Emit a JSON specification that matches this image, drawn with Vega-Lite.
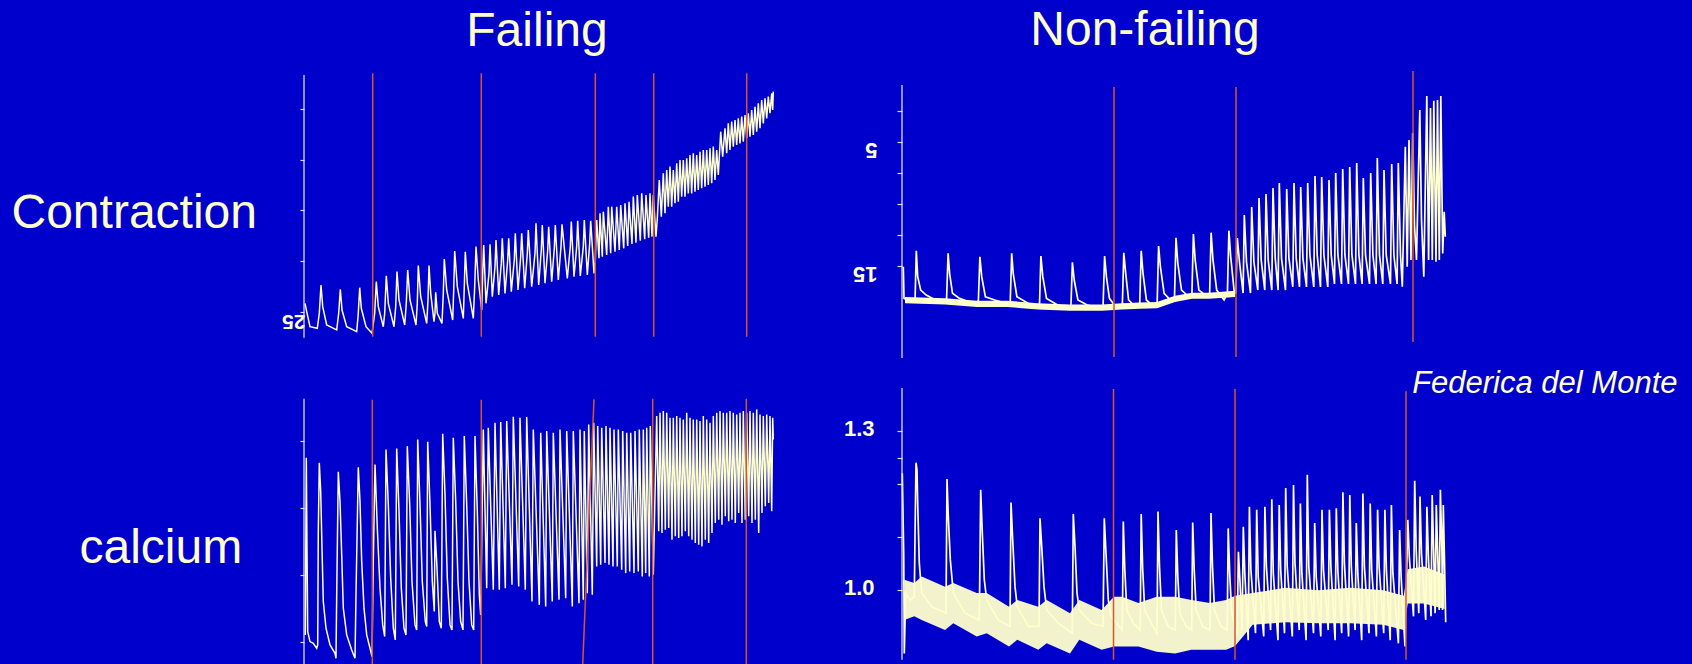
{
  "$schema": "https://vega.github.io/schema/vega-lite/v6.json",
  "background": "#0000CC",
  "padding": {"left": 11, "top": 7, "right": 15, "bottom": 0},
  "bounds": "flush",
  "columns": 2,
  "spacing": {"row": 30, "column": 126},
  "config": {
    "view": {"stroke": null},
    "font": "Liberation Sans",
    "title": {"fontSize": 48, "color": "#FFFFCC", "fontWeight": "normal", "font": "Liberation Sans", "anchor": "middle", "baseline": "alphabetic", "offset": 15, "frame": "group"},
    "axis": {"grid": false, "domain": false, "tickColor": "#DCDCF5", "tickWidth": 1.2, "labelColor": "#FFFFCC", "labelFont": "Liberation Sans", "labelFontWeight": "bold", "titleColor": "#FFFFCC", "titleFont": "Liberation Sans", "titleFontWeight": "normal", "labelOverlap": false, "labelFlush": false}
  },
  "datasets": {
    "fcMarks": [
      {"t": 6.87, "t2": 6.87, "top": 1.51, "bottom": 27.42},
      {"t": 17.73, "t2": 17.73, "top": 1.51, "bottom": 27.42},
      {"t": 29.13, "t2": 29.13, "top": 1.51, "bottom": 27.42},
      {"t": 34.97, "t2": 34.97, "top": 1.51, "bottom": 27.42},
      {"t": 44.27, "t2": 44.27, "top": 1.51, "bottom": 27.42}
    ],
    "ncMarks": [
      {"t": 21.2, "t2": 21.2, "top": 0.56, "bottom": 22.34},
      {"t": 33.4, "t2": 33.4, "top": 0.56, "bottom": 22.34},
      {"t": 51.1, "t2": 51.1, "top": -0.73, "bottom": 21.13}
    ],
    "fcaMarks": [
      {"t": 6.83, "t2": 6.83, "top": 7.25, "bottom": -0.66},
      {"t": 17.73, "t2": 17.73, "top": 7.25, "bottom": -0.66},
      {"t": 29.0, "t2": 27.87, "top": 7.26, "bottom": -0.66},
      {"t": 34.87, "t2": 34.87, "top": 7.28, "bottom": -0.66},
      {"t": 44.23, "t2": 44.23, "top": 7.28, "bottom": -0.66}
    ],
    "ncaMarks": [
      {"t": 21.15, "t2": 21.15, "top": 1.380, "bottom": 0.869},
      {"t": 33.3, "t2": 33.3, "top": 1.380, "bottom": 0.869},
      {"t": 50.4, "t2": 50.4, "top": 1.376, "bottom": 0.869}
    ],
    "fc": [
      {"t":0.10,"v":24.14},{"t":0.20,"v":24.63},{"t":0.60,"v":26.44},{"t":1.33,"v":26.60},{"t":1.53,"v":25.12},{"t":1.70,"v":22.34},{"t":1.87,"v":24.47},{"t":2.27,"v":26.27},{"t":3.27,"v":26.76},{"t":3.47,"v":25.12},{"t":3.63,"v":22.76},{"t":3.80,"v":24.80},{"t":4.27,"v":26.44},{"t":5.27,"v":26.93},{"t":5.43,"v":25.12},{"t":5.57,"v":22.60},{"t":5.73,"v":24.63},{"t":6.20,"v":26.44},{"t":6.80,"v":27.09},{"t":7.07,"v":25.12},{"t":7.23,"v":22.01},{"t":7.43,"v":24.47},{"t":7.93,"v":26.44},{"t":8.07,"v":25.12},{"t":8.23,"v":21.42},{"t":8.43,"v":24.14},{"t":9.00,"v":26.44},{"t":9.17,"v":24.47},{"t":9.30,"v":21.02},{"t":9.50,"v":23.81},{"t":10.07,"v":26.27},{"t":10.23,"v":24.14},{"t":10.37,"v":20.86},{"t":10.60,"v":23.81},{"t":11.20,"v":26.27},{"t":11.33,"v":24.14},{"t":11.43,"v":20.43},{"t":11.67,"v":23.49},{"t":12.27,"v":26.11},{"t":12.40,"v":23.81},{"t":12.50,"v":20.43},{"t":12.67,"v":23.16},{"t":13.00,"v":25.94},{"t":13.10,"v":25.12},{"t":13.17,"v":23.06},{"t":13.33,"v":25.12},{"t":13.80,"v":26.11},{"t":13.93,"v":23.16},{"t":14.03,"v":19.78},{"t":14.27,"v":22.83},{"t":14.87,"v":25.78},{"t":14.97,"v":22.83},{"t":15.07,"v":18.99},{"t":15.33,"v":22.50},{"t":15.93,"v":25.62},{"t":16.03,"v":22.50},{"t":16.13,"v":19.06},{"t":16.33,"v":22.17},{"t":16.93,"v":25.62},{"t":17.07,"v":22.50},{"t":17.20,"v":18.56},{"t":17.43,"v":21.85},{"t":17.77,"v":24.80},{"t":17.87,"v":21.19},{"t":17.97,"v":18.40},{"t":18.20,"v":24.14},{"t":18.50,"v":21.19},{"t":18.60,"v":18.33},{"t":18.83,"v":23.49},{"t":19.10,"v":20.54},{"t":19.20,"v":17.91},{"t":19.47,"v":23.32},{"t":19.73,"v":20.21},{"t":19.83,"v":17.74},{"t":20.10,"v":23.16},{"t":20.37,"v":19.88},{"t":20.47,"v":17.74},{"t":20.73,"v":22.99},{"t":21.03,"v":19.88},{"t":21.13,"v":17.25},{"t":21.40,"v":22.83},{"t":21.67,"v":19.55},{"t":21.77,"v":17.25},{"t":22.07,"v":22.66},{"t":22.33,"v":19.22},{"t":22.43,"v":16.92},{"t":22.77,"v":22.50},{"t":23.10,"v":19.22},{"t":23.20,"v":16.27},{"t":23.47,"v":22.34},{"t":23.73,"v":18.89},{"t":23.83,"v":16.43},{"t":24.10,"v":22.17},{"t":24.37,"v":18.89},{"t":24.47,"v":16.60},{"t":24.77,"v":22.01},{"t":25.03,"v":18.73},{"t":25.13,"v":16.43},{"t":25.43,"v":21.85},{"t":25.70,"v":18.56},{"t":25.80,"v":16.37},{"t":26.33,"v":21.68},{"t":26.63,"v":18.56},{"t":26.73,"v":16.10},{"t":27.00,"v":21.52},{"t":27.27,"v":18.56},{"t":27.37,"v":16.01},{"t":27.63,"v":21.45},{"t":27.93,"v":18.56},{"t":28.03,"v":15.94},{"t":28.33,"v":21.35},{"t":28.57,"v":18.24},{"t":28.67,"v":16.01},{"t":29.00,"v":21.19},
      {"t":29.13,"v":19.88},{"t":29.27,"v":15.94},{"t":29.50,"v":19.71},{"t":29.60,"v":15.28},{"t":29.83,"v":19.55},{"t":29.93,"v":15.12},{"t":30.27,"v":19.38},{"t":30.43,"v":14.63},{"t":30.67,"v":19.22},{"t":30.77,"v":14.63},{"t":31.10,"v":19.06},{"t":31.27,"v":14.63},{"t":31.53,"v":18.89},{"t":31.67,"v":14.46},{"t":31.97,"v":18.73},{"t":32.10,"v":14.30},{"t":32.37,"v":18.50},{"t":32.50,"v":14.14},{"t":32.80,"v":18.30},{"t":32.93,"v":13.64},{"t":33.20,"v":18.17},{"t":33.33,"v":13.48},{"t":33.63,"v":17.97},{"t":33.77,"v":13.32},{"t":34.07,"v":17.84},{"t":34.20,"v":13.48},{"t":34.47,"v":17.68},{"t":34.60,"v":13.32},{"t":34.80,"v":17.58},{"t":34.93,"v":13.48},{"t":35.20,"v":17.58},
      {"t":35.33,"v":15.78},{"t":35.53,"v":12.00},{"t":35.73,"v":15.61},{"t":35.93,"v":11.35},{"t":36.10,"v":15.28},{"t":36.27,"v":11.02},{"t":36.43,"v":14.63},{"t":36.60,"v":10.69},{"t":36.77,"v":14.63},{"t":36.93,"v":11.02},{"t":37.10,"v":14.30},{"t":37.27,"v":10.36},{"t":37.43,"v":14.14},{"t":37.60,"v":10.04},{"t":37.77,"v":13.64},{"t":37.93,"v":10.04},{"t":38.10,"v":13.64},{"t":38.27,"v":9.87},{"t":38.43,"v":13.32},{"t":38.60,"v":9.54},{"t":38.77,"v":13.32},{"t":38.93,"v":9.38},{"t":39.10,"v":13.15},{"t":39.27,"v":9.54},{"t":39.43,"v":12.99},{"t":39.60,"v":9.22},{"t":39.77,"v":12.82},{"t":39.93,"v":9.05},{"t":40.10,"v":12.66},{"t":40.27,"v":9.05},{"t":40.43,"v":12.50},{"t":40.60,"v":8.89},{"t":40.77,"v":12.33},{"t":40.93,"v":8.72},{"t":41.10,"v":12.00},{"t":41.27,"v":9.05},{"t":41.43,"v":11.51},{"t":41.67,"v":7.25},{"t":41.87,"v":9.71},{"t":42.10,"v":6.92},{"t":42.27,"v":9.38},{"t":42.43,"v":6.43},{"t":42.60,"v":9.05},{"t":42.77,"v":6.26},{"t":42.93,"v":8.72},{"t":43.10,"v":6.10},{"t":43.27,"v":8.56},{"t":43.43,"v":5.94},{"t":43.60,"v":8.40},{"t":43.77,"v":5.77},{"t":43.93,"v":8.23},{"t":44.10,"v":5.61},{"t":44.27,"v":7.90},{"t":44.43,"v":5.44},{"t":44.60,"v":7.74},{"t":44.77,"v":5.12},{"t":44.93,"v":7.58},{"t":45.10,"v":4.79},{"t":45.27,"v":7.25},{"t":45.43,"v":4.46},{"t":45.60,"v":6.92},{"t":45.77,"v":4.13},{"t":45.93,"v":6.43},{"t":46.10,"v":3.97},{"t":46.27,"v":5.94},{"t":46.43,"v":3.80},{"t":46.60,"v":5.44},{"t":46.77,"v":3.48},{"t":46.87,"v":5.12},{"t":46.93,"v":3.31}
    ],
    "nc": [
      {"t":0.13,"v":15.06},{"t":0.20,"v":17.61},{"t":0.76,"v":17.88},{"t":1.31,"v":17.61},{"t":1.43,"v":13.77},{"t":1.57,"v":15.86},{"t":1.87,"v":16.94},{"t":2.42,"v":17.34},{"t":3.35,"v":17.74},{"t":4.27,"v":17.88},{"t":4.46,"v":17.61},{"t":4.61,"v":13.98},{"t":4.76,"v":15.59},{"t":5.05,"v":17.20},{"t":5.75,"v":17.61},{"t":6.68,"v":17.88},{"t":7.49,"v":18.15},{"t":7.64,"v":17.74},{"t":7.79,"v":14.25},{"t":7.97,"v":15.86},{"t":8.34,"v":17.48},{"t":9.27,"v":17.74},{"t":10.38,"v":18.01},{"t":10.82,"v":18.01},{"t":10.97,"v":13.98},{"t":11.12,"v":15.59},{"t":11.49,"v":17.48},{"t":12.60,"v":18.01},{"t":13.52,"v":18.28},{"t":13.75,"v":18.15},{"t":13.89,"v":14.19},{"t":14.08,"v":15.86},{"t":14.45,"v":17.61},{"t":15.56,"v":18.15},{"t":16.67,"v":18.41},{"t":16.89,"v":18.28},{"t":17.04,"v":14.70},{"t":17.22,"v":16.13},{"t":17.59,"v":17.74},{"t":18.52,"v":18.15},{"t":20.00,"v":18.41},{"t":20.11,"v":18.15},{"t":20.26,"v":14.19},{"t":20.44,"v":15.86},{"t":20.74,"v":17.61},{"t":21.48,"v":18.41},{"t":22.03,"v":18.28},{"t":22.18,"v":13.93},{"t":22.37,"v":15.59},{"t":22.66,"v":17.74},{"t":23.33,"v":18.28},{"t":23.77,"v":18.15},{"t":23.92,"v":13.77},{"t":24.10,"v":15.59},{"t":24.44,"v":17.74},{"t":25.18,"v":18.28},{"t":25.51,"v":18.15},{"t":25.66,"v":13.39},{"t":25.84,"v":15.06},{"t":26.21,"v":17.20},{"t":26.84,"v":17.74},{"t":27.25,"v":17.61},{"t":27.40,"v":12.72},{"t":27.58,"v":14.78},{"t":27.95,"v":16.94},{"t":28.69,"v":17.48},{"t":28.99,"v":17.34},{"t":29.14,"v":12.42},{"t":29.32,"v":14.52},{"t":29.69,"v":16.94},{"t":30.54,"v":17.48},{"t":30.76,"v":17.34},{"t":30.91,"v":12.31},{"t":31.10,"v":14.52},{"t":31.47,"v":16.94},{"t":32.21,"v":17.74},{"t":32.54,"v":17.20},{"t":32.69,"v":12.15},{"t":32.87,"v":14.25},{"t":33.24,"v":17.20},
      {"t":33.38,"v":17.18},{"t":33.53,"v":12.74},{"t":33.75,"v":14.68},{"t":34.11,"v":17.18},{"t":34.23,"v":10.89},{"t":34.45,"v":14.68},{"t":34.85,"v":17.18},{"t":34.97,"v":10.24},{"t":35.19,"v":14.68},{"t":35.58,"v":16.94},{"t":35.70,"v":9.52},{"t":35.92,"v":14.52},{"t":36.28,"v":16.94},{"t":36.40,"v":9.19},{"t":36.62,"v":14.52},{"t":36.98,"v":16.94},{"t":37.10,"v":8.71},{"t":37.32,"v":14.36},{"t":37.61,"v":16.94},{"t":37.73,"v":8.31},{"t":37.95,"v":14.36},{"t":38.35,"v":16.94},{"t":38.47,"v":8.79},{"t":38.69,"v":14.36},{"t":39.08,"v":16.69},{"t":39.20,"v":8.31},{"t":39.42,"v":14.36},{"t":39.75,"v":16.69},{"t":39.87,"v":8.63},{"t":40.09,"v":14.36},{"t":40.45,"v":16.69},{"t":40.57,"v":8.31},{"t":40.79,"v":14.11},{"t":41.18,"v":16.69},{"t":41.30,"v":7.74},{"t":41.52,"v":14.11},{"t":41.85,"v":16.69},{"t":41.97,"v":7.82},{"t":42.19,"v":14.11},{"t":42.58,"v":16.69},{"t":42.70,"v":8.06},{"t":42.92,"v":14.11},{"t":43.25,"v":16.45},{"t":43.37,"v":7.50},{"t":43.59,"v":14.11},{"t":43.95,"v":16.45},{"t":44.07,"v":7.18},{"t":44.29,"v":14.11},{"t":44.65,"v":16.45},{"t":44.77,"v":7.02},{"t":44.99,"v":14.11},{"t":45.35,"v":16.45},{"t":45.47,"v":6.69},{"t":45.69,"v":14.11},{"t":46.01,"v":16.45},{"t":46.13,"v":7.90},{"t":46.35,"v":14.11},{"t":46.75,"v":16.45},{"t":46.87,"v":7.50},{"t":47.09,"v":14.11},{"t":47.41,"v":16.45},{"t":47.53,"v":6.29},{"t":47.75,"v":14.11},{"t":48.08,"v":16.45},{"t":48.20,"v":7.26},{"t":48.42,"v":14.11},{"t":48.85,"v":16.45},{"t":48.97,"v":6.77},{"t":49.19,"v":14.11},{"t":49.51,"v":16.45},{"t":49.63,"v":6.69},{"t":49.85,"v":14.11},
      {"t":50.03,"v":16.67},{"t":50.33,"v":5.38},{"t":50.52,"v":15.06},{"t":50.70,"v":4.84},{"t":50.90,"v":14.52},{"t":51.07,"v":4.27},{"t":51.25,"v":11.69},{"t":51.45,"v":14.52},{"t":51.78,"v":2.42},{"t":51.95,"v":11.29},{"t":52.18,"v":15.86},{"t":52.48,"v":1.29},{"t":52.66,"v":14.52},{"t":52.85,"v":2.26},{"t":53.03,"v":14.52},{"t":53.18,"v":1.67},{"t":53.40,"v":14.65},{"t":53.55,"v":1.61},{"t":53.73,"v":14.52},{"t":53.88,"v":1.29},{"t":54.07,"v":13.98},{"t":54.22,"v":10.62},{"t":54.33,"v":12.64}
    ],
    "ncBand": [
      {"t":0.3,"lo":17.5,"hi":18.0},{"t":4.3,"lo":17.6,"hi":18.1},{"t":7.5,"lo":17.8,"hi":18.3},{"t":10.5,"lo":17.8,"hi":18.3},{"t":13.6,"lo":18.0,"hi":18.5},{"t":16.8,"lo":18.1,"hi":18.6},{"t":20.0,"lo":18.1,"hi":18.6},{"t":22.0,"lo":18.0,"hi":18.5},{"t":23.8,"lo":17.95,"hi":18.45},{"t":25.5,"lo":17.9,"hi":18.4},{"t":27.3,"lo":17.4,"hi":17.9},{"t":29.0,"lo":17.15,"hi":17.65},{"t":30.7,"lo":17.15,"hi":17.65},{"t":33.3,"lo":17.0,"hi":17.5}
    ],
    "fca": [
      {"t":0.13,"v":0.21},{"t":0.23,"v":5.51},{"t":0.30,"v":2.81},{"t":0.37,"v":0.31},{"t":0.60,"v":0.01},{"t":0.93,"v":-0.04},{"t":1.27,"v":-0.19},{"t":1.37,"v":-0.09},{"t":1.43,"v":3.31},{"t":1.53,"v":5.36},{"t":1.67,"v":4.51},{"t":1.80,"v":2.81},{"t":1.93,"v":1.21},{"t":2.20,"v":0.41},{"t":2.60,"v":-0.09},{"t":3.10,"v":-0.34},{"t":3.20,"v":-0.49},{"t":3.27,"v":1.41},{"t":3.43,"v":5.09},{"t":3.60,"v":4.21},{"t":3.77,"v":2.61},{"t":3.93,"v":1.01},{"t":4.27,"v":0.21},{"t":4.77,"v":-0.24},{"t":5.10,"v":-0.49},{"t":5.20,"v":1.41},{"t":5.43,"v":5.23},{"t":5.60,"v":4.21},{"t":5.77,"v":2.41},{"t":6.00,"v":1.01},{"t":6.27,"v":0.21},{"t":6.60,"v":-0.19},{"t":6.80,"v":-0.44},{"t":6.93,"v":2.41},{"t":7.10,"v":5.31},{"t":7.33,"v":3.41},{"t":7.60,"v":1.61},{"t":7.87,"v":0.51},{"t":8.07,"v":0.16},{"t":8.20,"v":5.76},{"t":8.43,"v":4.11},{"t":8.67,"v":1.91},{"t":8.93,"v":0.41},{"t":9.13,"v":0.06},{"t":9.27,"v":5.79},{"t":9.50,"v":3.91},{"t":9.73,"v":1.61},{"t":10.00,"v":0.41},{"t":10.20,"v":0.21},{"t":10.33,"v":5.86},{"t":10.57,"v":4.11},{"t":10.80,"v":1.81},{"t":11.10,"v":0.51},{"t":11.27,"v":0.36},{"t":11.37,"v":6.06},{"t":11.60,"v":4.11},{"t":11.83,"v":1.81},{"t":12.13,"v":0.61},{"t":12.27,"v":0.46},{"t":12.37,"v":5.99},{"t":12.60,"v":4.11},{"t":12.83,"v":1.81},{"t":13.03,"v":0.91},{"t":13.10,"v":3.33},{"t":13.27,"v":2.41},{"t":13.53,"v":0.61},{"t":13.73,"v":0.41},{"t":13.87,"v":6.23},{"t":14.10,"v":4.41},{"t":14.33,"v":1.91},{"t":14.60,"v":0.51},{"t":14.80,"v":0.36},{"t":14.93,"v":6.11},{"t":15.17,"v":4.21},{"t":15.40,"v":1.81},{"t":15.67,"v":0.61},{"t":15.90,"v":0.36},{"t":16.03,"v":6.16},{"t":16.27,"v":4.11},{"t":16.50,"v":1.81},{"t":16.77,"v":0.51},{"t":16.97,"v":0.36},{"t":17.10,"v":6.16},{"t":17.33,"v":3.91},{"t":17.53,"v":1.41},{"t":17.67,"v":0.81},
      {"t":17.93,"v":6.36},{"t":18.27,"v":1.61},{"t":18.43,"v":6.41},{"t":18.93,"v":1.56},{"t":19.10,"v":6.56},{"t":19.53,"v":1.56},{"t":19.67,"v":6.58},{"t":20.13,"v":1.61},{"t":20.27,"v":6.61},{"t":20.80,"v":1.71},{"t":20.93,"v":6.74},{"t":21.47,"v":1.66},{"t":21.60,"v":6.71},{"t":22.13,"v":1.56},{"t":22.27,"v":6.73},{"t":22.80,"v":1.21},{"t":22.93,"v":6.36},{"t":23.53,"v":1.11},{"t":23.67,"v":6.26},{"t":24.17,"v":1.06},{"t":24.27,"v":6.31},{"t":24.83,"v":1.21},{"t":24.93,"v":6.26},{"t":25.50,"v":1.26},{"t":25.60,"v":6.36},{"t":26.17,"v":1.31},{"t":26.27,"v":6.31},{"t":26.83,"v":1.06},{"t":26.93,"v":6.31},{"t":27.50,"v":1.16},{"t":27.60,"v":6.36},{"t":27.93,"v":1.26},{"t":28.03,"v":6.31},{"t":28.33,"v":1.46},{"t":28.47,"v":6.51},{"t":28.83,"v":1.41},{"t":28.97,"v":6.56},
      {"t":29.27,"v":2.26},{"t":29.37,"v":6.46},{"t":29.67,"v":2.31},{"t":29.77,"v":6.41},{"t":30.10,"v":2.36},{"t":30.20,"v":6.46},{"t":30.50,"v":2.31},{"t":30.60,"v":6.41},{"t":30.90,"v":2.26},{"t":31.00,"v":6.36},{"t":31.33,"v":2.26},{"t":31.43,"v":6.36},{"t":31.77,"v":2.16},{"t":31.87,"v":6.31},{"t":32.17,"v":2.06},{"t":32.27,"v":6.26},{"t":32.57,"v":2.11},{"t":32.67,"v":6.26},{"t":33.00,"v":2.06},{"t":33.10,"v":6.31},{"t":33.43,"v":2.11},{"t":33.53,"v":6.36},{"t":33.83,"v":1.96},{"t":33.93,"v":6.36},{"t":34.17,"v":2.06},{"t":34.27,"v":6.41},{"t":34.53,"v":1.96},{"t":34.63,"v":6.46},{"t":34.93,"v":2.01},
      {"t":35.27,"v":6.76},{"t":35.47,"v":3.31},{"t":35.60,"v":6.86},{"t":35.80,"v":3.26},{"t":35.93,"v":6.91},{"t":36.13,"v":3.36},{"t":36.27,"v":6.86},{"t":36.47,"v":3.41},{"t":36.60,"v":6.71},{"t":36.80,"v":3.06},{"t":36.93,"v":6.71},{"t":37.13,"v":3.16},{"t":37.27,"v":6.76},{"t":37.47,"v":3.11},{"t":37.60,"v":6.71},{"t":37.80,"v":3.16},{"t":37.93,"v":6.66},{"t":38.13,"v":3.31},{"t":38.27,"v":6.86},{"t":38.47,"v":3.16},{"t":38.60,"v":6.71},{"t":38.80,"v":3.06},{"t":38.93,"v":6.66},{"t":39.13,"v":2.96},{"t":39.27,"v":6.66},{"t":39.47,"v":2.91},{"t":39.60,"v":6.61},{"t":39.80,"v":2.86},{"t":39.93,"v":6.76},{"t":40.13,"v":3.06},{"t":40.27,"v":6.66},{"t":40.47,"v":2.96},{"t":40.60,"v":6.56},{"t":40.80,"v":3.26},{"t":40.93,"v":6.76},{"t":41.13,"v":3.56},{"t":41.27,"v":6.86},{"t":41.47,"v":3.66},{"t":41.60,"v":6.91},{"t":41.80,"v":3.51},{"t":41.93,"v":6.86},{"t":42.13,"v":3.76},{"t":42.27,"v":6.86},{"t":42.47,"v":3.61},{"t":42.60,"v":6.91},{"t":42.80,"v":3.66},{"t":42.93,"v":6.86},{"t":43.13,"v":3.56},{"t":43.27,"v":6.81},{"t":43.47,"v":3.86},{"t":43.60,"v":6.86},{"t":43.80,"v":3.56},{"t":43.93,"v":6.91},{"t":44.13,"v":3.66},{"t":44.27,"v":6.86},{"t":44.47,"v":3.76},{"t":44.60,"v":6.91},{"t":44.80,"v":3.56},{"t":44.93,"v":6.86},{"t":45.13,"v":3.66},{"t":45.27,"v":6.96},{"t":45.47,"v":3.26},{"t":45.60,"v":6.81},{"t":45.80,"v":3.86},{"t":45.93,"v":6.76},{"t":46.13,"v":4.06},{"t":46.27,"v":6.81},{"t":46.47,"v":4.16},{"t":46.60,"v":6.76},{"t":46.77,"v":3.91},{"t":46.87,"v":6.71},{"t":46.93,"v":6.06}
    ],
    "nca": [
      {"t":0.03,"v":1.221},{"t":0.17,"v":1.070},{"t":0.23,"v":0.881},{"t":0.37,"v":0.995},{"t":0.80,"v":0.982},{"t":1.23,"v":0.988},{"t":1.30,"v":1.102},{"t":1.40,"v":1.241},{"t":1.50,"v":1.227},{"t":1.57,"v":1.164},{"t":1.73,"v":1.051},{"t":1.97,"v":0.995},{"t":2.97,"v":0.969},{"t":4.40,"v":0.957},{"t":4.50,"v":1.210},{"t":4.63,"v":1.139},{"t":4.83,"v":1.058},{"t":5.13,"v":0.995},{"t":6.30,"v":0.957},{"t":7.73,"v":0.944},{"t":7.87,"v":1.190},{"t":8.03,"v":1.108},{"t":8.23,"v":1.020},{"t":8.47,"v":0.982},{"t":9.63,"v":0.944},{"t":10.80,"v":0.932},{"t":10.90,"v":1.166},{"t":11.07,"v":1.095},{"t":11.30,"v":1.007},{"t":11.53,"v":0.969},{"t":12.63,"v":0.932},{"t":13.70,"v":0.932},{"t":13.80,"v":1.136},{"t":13.97,"v":1.083},{"t":14.20,"v":1.007},{"t":14.47,"v":0.963},{"t":15.63,"v":0.938},{"t":17.03,"v":0.919},{"t":17.13,"v":1.144},{"t":17.30,"v":1.083},{"t":17.50,"v":0.995},{"t":17.73,"v":0.963},{"t":18.97,"v":0.938},{"t":20.10,"v":0.932},{"t":20.23,"v":1.136},{"t":20.40,"v":1.070},{"t":20.63,"v":0.982},{"t":20.90,"v":0.951},{"t":22.03,"v":0.925},{"t":22.13,"v":1.130},{"t":22.28,"v":1.039},{"t":22.48,"v":0.963},{"t":23.13,"v":0.938},{"t":23.82,"v":0.925},{"t":23.92,"v":1.144},{"t":24.07,"v":1.039},{"t":24.27,"v":0.963},{"t":24.92,"v":0.938},{"t":25.50,"v":0.919},{"t":25.60,"v":1.149},{"t":25.75,"v":1.045},{"t":25.95,"v":0.963},{"t":26.60,"v":0.932},{"t":27.33,"v":0.925},{"t":27.43,"v":1.114},{"t":27.58,"v":1.026},{"t":27.78,"v":0.957},{"t":28.43,"v":0.932},{"t":28.97,"v":0.925},{"t":29.07,"v":1.128},{"t":29.22,"v":1.039},{"t":29.42,"v":0.963},{"t":30.07,"v":0.932},{"t":30.80,"v":0.925},{"t":30.90,"v":1.146},{"t":31.05,"v":1.045},{"t":31.25,"v":0.963},{"t":31.90,"v":0.932},{"t":32.52,"v":0.925},{"t":32.62,"v":1.117},{"t":32.77,"v":1.032},{"t":32.97,"v":0.957},{"t":33.20,"v":0.938},
      {"t":33.52,"v":0.913},{"t":33.64,"v":1.073},{"t":33.79,"v":1.020},{"t":34.01,"v":0.925},{"t":34.13,"v":1.120},{"t":34.28,"v":1.032},{"t":34.62,"v":0.906},{"t":34.74,"v":1.158},{"t":34.89,"v":1.039},{"t":35.35,"v":0.919},{"t":35.47,"v":1.152},{"t":35.62,"v":1.026},{"t":36.17,"v":0.913},{"t":36.29,"v":1.158},{"t":36.44,"v":1.045},{"t":36.86,"v":0.925},{"t":36.98,"v":1.172},{"t":37.13,"v":1.032},{"t":37.60,"v":0.906},{"t":37.72,"v":1.161},{"t":37.87,"v":1.039},{"t":38.25,"v":0.919},{"t":38.37,"v":1.193},{"t":38.52,"v":1.045},{"t":39.03,"v":0.913},{"t":39.15,"v":1.199},{"t":39.30,"v":1.051},{"t":39.72,"v":0.925},{"t":39.84,"v":1.164},{"t":39.99,"v":1.032},{"t":40.41,"v":0.906},{"t":40.53,"v":1.218},{"t":40.68,"v":1.045},{"t":41.15,"v":0.919},{"t":41.27,"v":1.127},{"t":41.42,"v":1.026},{"t":41.88,"v":0.913},{"t":42.00,"v":1.152},{"t":42.15,"v":1.039},{"t":42.62,"v":0.925},{"t":42.74,"v":1.152},{"t":42.89,"v":1.045},{"t":43.31,"v":0.906},{"t":43.43,"v":1.155},{"t":43.58,"v":1.039},{"t":43.97,"v":0.919},{"t":44.09,"v":1.185},{"t":44.24,"v":1.051},{"t":44.66,"v":0.913},{"t":44.78,"v":1.180},{"t":44.93,"v":1.045},{"t":45.31,"v":0.925},{"t":45.43,"v":1.127},{"t":45.58,"v":1.032},{"t":45.97,"v":0.906},{"t":46.09,"v":1.183},{"t":46.24,"v":1.045},{"t":46.70,"v":0.919},{"t":46.82,"v":1.164},{"t":46.97,"v":1.039},{"t":47.44,"v":0.913},{"t":47.56,"v":1.152},{"t":47.71,"v":1.045},{"t":48.17,"v":0.919},{"t":48.29,"v":1.152},{"t":48.44,"v":1.039},{"t":48.82,"v":0.906},{"t":48.94,"v":1.161},{"t":49.09,"v":1.032},{"t":49.64,"v":0.900},{"t":49.76,"v":1.114},{"t":49.91,"v":1.026},{"t":50.30,"v":0.894},{"t":50.58,"v":1.133},{"t":50.73,"v":1.064},{"t":51.15,"v":0.951},{"t":51.27,"v":1.207},{"t":51.42,"v":1.076},{"t":51.68,"v":0.957},{"t":51.80,"v":1.177},{"t":51.95,"v":1.070},{"t":52.37,"v":0.944},{"t":52.49,"v":1.158},{"t":52.64,"v":1.064},{"t":52.90,"v":0.951},{"t":53.02,"v":1.180},{"t":53.17,"v":1.070},{"t":53.31,"v":0.957},{"t":53.43,"v":1.161},{"t":53.58,"v":1.064},{"t":53.72,"v":0.963},{"t":53.84,"v":1.190},{"t":53.99,"v":1.076},{"t":54.05,"v":0.963},{"t":54.13,"v":1.161},{"t":54.25,"v":1.057},{"t":54.37,"v":0.940}
    ],
    "ncaBand": [
      {"t":0.23,"lo":0.944,"hi":1.020},{"t":1.23,"lo":0.951,"hi":1.014},{"t":1.97,"lo":0.944,"hi":1.026},{"t":4.30,"lo":0.925,"hi":1.007},{"t":5.13,"lo":0.938,"hi":1.014},{"t":7.47,"lo":0.913,"hi":0.995},{"t":8.47,"lo":0.919,"hi":0.995},{"t":10.70,"lo":0.894,"hi":0.969},{"t":11.53,"lo":0.907,"hi":0.982},{"t":13.63,"lo":0.888,"hi":0.969},{"t":14.47,"lo":0.900,"hi":0.982},{"t":16.80,"lo":0.881,"hi":0.957},{"t":17.73,"lo":0.907,"hi":0.982},{"t":19.97,"lo":0.888,"hi":0.963},{"t":21.19,"lo":0.894,"hi":0.988},{"t":22.00,"lo":0.894,"hi":0.988},{"t":23.64,"lo":0.894,"hi":0.976},{"t":25.47,"lo":0.884,"hi":0.988},{"t":27.31,"lo":0.881,"hi":0.988},{"t":28.94,"lo":0.888,"hi":0.982},{"t":30.78,"lo":0.888,"hi":0.976},{"t":32.41,"lo":0.888,"hi":0.982},{"t":33.31,"lo":0.895,"hi":0.990},{"t":35.07,"lo":0.935,"hi":0.995},{"t":38.33,"lo":0.940,"hi":1.005},{"t":41.60,"lo":0.938,"hi":1.000},{"t":44.86,"lo":0.938,"hi":1.005},{"t":48.13,"lo":0.935,"hi":1.000},{"t":50.17,"lo":0.925,"hi":0.990},{"t":50.58,"lo":0.975,"hi":1.040},{"t":52.21,"lo":0.975,"hi":1.045},{"t":54.25,"lo":0.965,"hi":1.030}
    ]
  },
  "concat": [
    {
      "width": 472, "height": 287,
      "title": {"text": "Failing", "dx": -3},
      "layer": [
        {"data": {"name": "fc"}, "mark": {"type": "line", "color": "#FFFFCC", "strokeWidth": 1.5},
         "encoding": {
           "x": {"field": "t", "type": "quantitative", "scale": {"domain": [0, 47.2], "nice": false, "zero": false}, "axis": null},
           "y": {"field": "v", "type": "quantitative", "scale": {"domain": [1.28, 29.52], "reverse": true, "nice": false, "zero": false},
                 "axis": {"title": "Contraction", "titleAngle": 0, "titleAlign": "left", "titleBaseline": "alphabetic", "titleX": -293, "titleY": 156, "titleFontSize": 48,
                          "values": [5, 7.5, 10, 12.5, 15, 17.5, 20, 22.5, 25, 27.5], "tickSize": 4,
                          "labelExpr": "datum.value === 25 ? '25' : ''", "labelAngle": 180, "labelAlign": "left", "labelBaseline": "middle", "labelFontSize": 21, "labelPadding": -5, "labelOffset": 8}}}},
        {"data": {"values": [{}]}, "mark": {"type": "rule", "color": "#DCDCF5", "strokeWidth": 1.3},
         "encoding": {"x": {"datum": 0, "axis": null}, "y": {"datum": 1.67}, "y2": {"datum": 27.52}}},
        {"data": {"name": "fcMarks"}, "mark": {"type": "rule", "color": "#D9562B", "strokeWidth": 1.5},
         "encoding": {"x": {"field": "t", "type": "quantitative", "axis": null}, "x2": {"field": "t2"}, "y": {"field": "top", "type": "quantitative"}, "y2": {"field": "bottom"}}}
      ]
    },
    {
      "width": 545, "height": 287,
      "title": {"text": "Non-failing", "dx": -29.5},
      "layer": [
        {"data": {"name": "ncBand"}, "mark": {"type": "area", "color": "#FFFFCC", "opacity": 1},
         "encoding": {
           "x": {"field": "t", "type": "quantitative", "scale": {"domain": [0, 54.5], "nice": false, "zero": false},
                 "axis": {"title": "Federica del Monte", "labels": false, "ticks": false, "domain": false, "titleFontSize": 31, "titleFontStyle": "italic", "titleFontWeight": "normal", "titleAlign": "right", "titleBaseline": "alphabetic", "titleX": 775, "titleY": 34, "titleColor": "#FFFFCC"}},
           "y": {"field": "lo", "type": "quantitative", "scale": {"domain": [-0.73, 22.42], "reverse": true, "nice": false, "zero": false},
                 "axis": {"title": null, "values": [2.5, 5, 7.5, 10, 12.5, 15], "tickSize": 5,
                          "labelExpr": "datum.value === 5 || datum.value === 15 ? datum.label : ''", "labelAngle": 180, "labelAlign": "left", "labelBaseline": "middle", "labelFontSize": 22, "labelPadding": 20, "labelOffset": 7}},
           "y2": {"field": "hi"}}},
        {"data": {"name": "nc"}, "mark": {"type": "line", "color": "#FFFFCC", "strokeWidth": 1.7},
         "encoding": {"x": {"field": "t", "type": "quantitative"}, "y": {"field": "v", "type": "quantitative"}}},
        {"data": {"values": [{}]}, "mark": {"type": "rule", "color": "#DCDCF5", "strokeWidth": 1.3},
         "encoding": {"x": {"datum": 0}, "y": {"datum": 0.40}, "y2": {"datum": 22.42}}},
        {"data": {"name": "ncMarks"}, "mark": {"type": "rule", "color": "#D9562B", "strokeWidth": 1.5},
         "encoding": {"x": {"field": "t", "type": "quantitative"}, "x2": {"field": "t2"}, "y": {"field": "top", "type": "quantitative"}, "y2": {"field": "bottom"}}}
      ]
    },
    {
      "width": 472, "height": 276,
      "layer": [
        {"data": {"name": "fca"}, "mark": {"type": "line", "color": "#FFFFCC", "strokeWidth": 1.5},
         "encoding": {
           "x": {"field": "t", "type": "quantitative", "scale": {"domain": [0, 47.2], "nice": false, "zero": false}, "axis": null},
           "y": {"field": "v", "type": "quantitative", "scale": {"domain": [-0.66, 7.6], "nice": false, "zero": false},
                 "axis": {"title": "calcium", "titleAngle": 0, "titleAlign": "left", "titleBaseline": "alphabetic", "titleX": -225, "titleY": 174, "titleFontSize": 48,
                          "values": [0, 1, 2, 3, 4, 5, 6, 7], "tickSize": 4, "labels": false}}}},
        {"data": {"values": [{}]}, "mark": {"type": "rule", "color": "#DCDCF5", "strokeWidth": 1.3},
         "encoding": {"x": {"datum": 0, "axis": null}, "y": {"datum": 7.28}, "y2": {"datum": -0.66}}},
        {"data": {"name": "fcaMarks"}, "mark": {"type": "rule", "color": "#D9562B", "strokeWidth": 1.5},
         "encoding": {"x": {"field": "t", "type": "quantitative", "axis": null}, "x2": {"field": "t2"}, "y": {"field": "top", "type": "quantitative"}, "y2": {"field": "bottom"}}}
      ]
    },
    {
      "width": 545, "height": 276,
      "layer": [
        {"data": {"name": "ncaBand"}, "mark": {"type": "area", "color": "#FFFFCC", "opacity": 0.95},
         "encoding": {
           "x": {"field": "t", "type": "quantitative", "scale": {"domain": [0, 54.5], "nice": false, "zero": false}, "axis": null},
           "y": {"field": "lo", "type": "quantitative", "scale": {"domain": [0.861, 1.382], "nice": false, "zero": false},
                 "axis": {"title": null, "values": [1.0, 1.1, 1.2, 1.25, 1.3], "tickSize": 5,
                          "labelExpr": "datum.value === 1.3 ? '1.3' : datum.value === 1 ? '1.0' : ''", "labelAlign": "right", "labelBaseline": "middle", "labelFontSize": 22, "labelPadding": 23, "labelOffset": -3}},
           "y2": {"field": "hi"}}},
        {"data": {"name": "nca"}, "mark": {"type": "line", "color": "#FFFFCC", "strokeWidth": 1.7},
         "encoding": {"x": {"field": "t", "type": "quantitative", "axis": null}, "y": {"field": "v", "type": "quantitative"}}},
        {"data": {"values": [{}]}, "mark": {"type": "rule", "color": "#DCDCF5", "strokeWidth": 1.3},
         "encoding": {"x": {"datum": 0, "axis": null}, "y": {"datum": 1.382}, "y2": {"datum": 0.869}}},
        {"data": {"name": "ncaMarks"}, "mark": {"type": "rule", "color": "#D9562B", "strokeWidth": 1.5},
         "encoding": {"x": {"field": "t", "type": "quantitative", "axis": null}, "x2": {"field": "t2"}, "y": {"field": "top", "type": "quantitative"}, "y2": {"field": "bottom"}}}
      ]
    }
  ]
}
